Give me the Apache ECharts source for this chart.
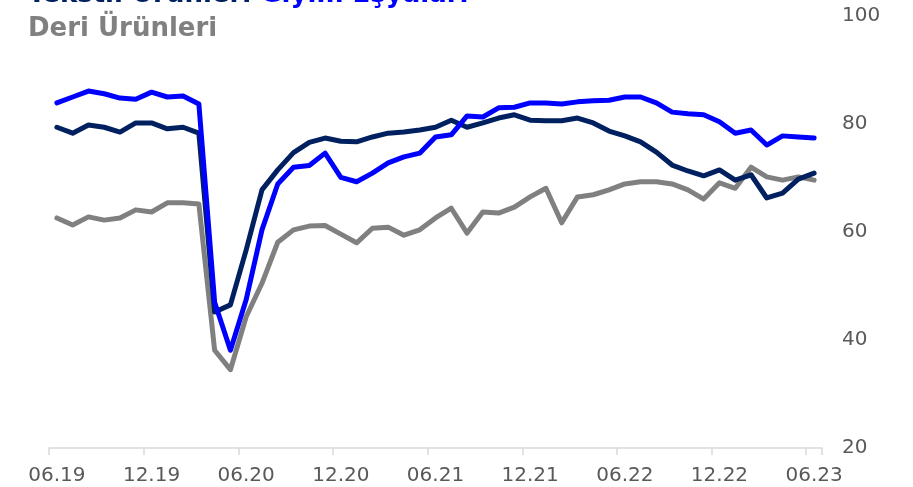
<!DOCTYPE html>
<html>
<head>
<meta charset="utf-8">
<script src="https://cdn.jsdelivr.net/npm/echarts@6/dist/echarts.min.js"></script>
<style>
  html, body { margin: 0; padding: 0; background: #fff; }
  #chart { width: 913px; height: 487px; }
</style>
</head>
<body>
<div id="chart"></div>
<script>
// Monthly index values, 06.2019 - 06.2023
const months = [
  '06.19','07.19','08.19','09.19','10.19','11.19','12.19',
  '01.20','02.20','03.20','04.20','05.20','06.20',
  '07.20','08.20','09.20','10.20','11.20','12.20',
  '01.21','02.21','03.21','04.21','05.21','06.21',
  '07.21','08.21','09.21','10.21','11.21','12.21',
  '01.22','02.22','03.22','04.22','05.22','06.22',
  '07.22','08.22','09.22','10.22','11.22','12.22',
  '01.23','02.23','03.23','04.23','05.23','06.23'
];

const tekstil = [
  79.4, 78.3, 79.8, 79.4, 78.5, 80.2, 80.2, 79.1, 79.4, 78.3,
  45.2, 46.5, 56.7, 67.8, 71.5, 74.7, 76.6, 77.4, 76.8, 76.7,
  77.6, 78.3, 78.5, 78.9, 79.4, 80.7, 79.4, 80.2, 81.1, 81.7,
  80.7, 80.6, 80.6, 81.1, 80.2, 78.7, 77.8, 76.7, 74.8, 72.4,
  71.3, 70.4, 71.5, 69.6, 70.6, 66.3, 67.2, 69.8, 70.9
];

const giyim = [
  83.9, 85.0, 86.1, 85.6, 84.8, 84.6, 85.9, 85.0, 85.2, 83.7,
  47.0, 38.1, 47.5, 60.4, 68.9, 72.0, 72.3, 74.6, 70.1, 69.3,
  70.9, 72.8, 73.9, 74.6, 77.6, 78.0, 81.5, 81.3, 83.0, 83.1,
  83.9, 83.9, 83.7, 84.1, 84.3, 84.4, 85.0, 85.0, 83.9, 82.2,
  81.9, 81.7, 80.4, 78.3, 78.9, 76.1, 77.8, 77.6, 77.4
];

const deri = [
  62.6, 61.3, 62.8, 62.2, 62.6, 64.1, 63.7, 65.4, 65.4, 65.2,
  38.1, 34.5, 44.3, 50.5, 58.1, 60.4, 61.1, 61.2, 59.6, 58.0,
  60.7, 60.9, 59.4, 60.4, 62.6, 64.4, 59.8, 63.7, 63.5, 64.6,
  66.5, 68.1, 61.7, 66.5, 66.9, 67.8, 68.9, 69.3, 69.3, 68.9,
  67.8, 66.1, 69.1, 68.1, 72.0, 70.2, 69.6, 70.2, 69.6
];

const yTicks = { min: 20, max: 100, step: 20 };

const NAVY = '#002060';
const BLUE = '#0000ff';
const GREY = '#808080';
const FONT = '"DejaVu Sans", Verdana, sans-serif';

const chart = echarts.init(document.getElementById('chart'), null, { renderer: 'canvas' });

function lineSeries(name, data, color) {
  return {
    name: name,
    type: 'line',
    data: data,
    symbol: 'none',
    smooth: false,
    animation: false,
    lineStyle: { color: color, width: 5, cap: 'round', join: 'round' }
  };
}

chart.setOption({
  animation: false,
  grid: { left: 49, right: 91, top: 16, bottom: 39, containLabel: false },
  graphic: [
    {
      type: 'text',
      left: 28,
      top: -18,
      style: {
        text: '{a|Tekstil Ürünleri} {b|Giyim Eşyaları}',
        rich: {
          a: { fill: NAVY, fontFamily: FONT, fontWeight: 'bold', fontSize: 26 },
          b: { fill: BLUE, fontFamily: FONT, fontWeight: 'bold', fontSize: 26 }
        },
        fontFamily: FONT, fontWeight: 'bold', fontSize: 26
      }
    },
    {
      type: 'text',
      left: 28,
      top: 16,
      style: { text: 'Deri Ürünleri', fill: GREY, fontFamily: FONT, fontWeight: 'bold', fontSize: 26 }
    }
  ],
  xAxis: {
    type: 'category',
    data: months,
    boundaryGap: true,
    axisLine: { show: true, lineStyle: { color: '#d9d9d9', width: 1.5 } },
    axisTick: { show: true, interval: 5, length: 7, lineStyle: { color: '#d9d9d9', width: 1.5 } },
    axisLabel: { interval: 5, color: '#595959', fontSize: 20, fontFamily: FONT, margin: 18 },
    splitLine: { show: false }
  },
  yAxis: {
    type: 'value',
    position: 'right',
    min: yTicks.min,
    max: yTicks.max,
    interval: yTicks.step,
    axisLine: { show: false },
    axisTick: { show: false },
    splitLine: { show: false },
    axisLabel: { color: '#595959', fontSize: 20, fontFamily: FONT, margin: 20 }
  },
  series: [
    lineSeries('Deri Ürünleri', deri, GREY),
    lineSeries('Tekstil Ürünleri', tekstil, NAVY),
    lineSeries('Giyim Eşyaları', giyim, BLUE)
  ]
});
</script>
</body>
</html>
